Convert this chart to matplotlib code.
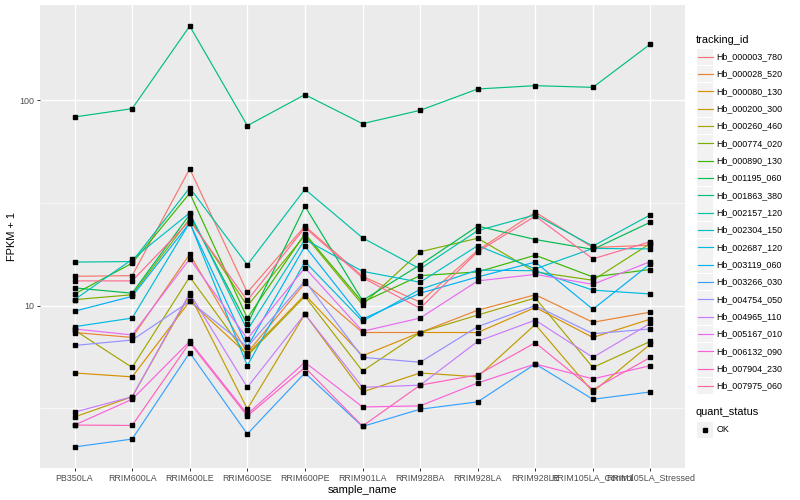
import numpy as np
import matplotlib
matplotlib.use("Agg")
import matplotlib.pyplot as plt
from matplotlib.lines import Line2D
from matplotlib.patches import Rectangle
from matplotlib.ticker import FixedLocator, NullFormatter

plt.rcParams['font.family'] = ['Liberation Sans', 'DejaVu Sans']

samples = ["PB350LA", "RRIM600LA", "RRIM600LE", "RRIM600SE", "RRIM600PE", "RRIM901LA",
           "RRIM928BA", "RRIM928LA", "RRIM928LE", "RRIM105LA_Control", "RRIM105LA_Stressed"]

tracking_ids = ["Hb_000003_780", "Hb_000028_520", "Hb_000080_130", "Hb_000200_300",
                "Hb_000260_460", "Hb_000774_020", "Hb_000890_130", "Hb_001195_060",
                "Hb_001863_380", "Hb_002157_120", "Hb_002304_150", "Hb_002687_120",
                "Hb_003119_060", "Hb_003266_030", "Hb_004754_050", "Hb_004965_110",
                "Hb_005167_010", "Hb_006132_090", "Hb_007904_230", "Hb_007975_060"]

colors = ["#F8766D", "#EA8331", "#D89000", "#C09B00", "#A3A500", "#7CAE00", "#39B600",
          "#00BB4E", "#00BF7D", "#00C1A3", "#00BFC4", "#00BAE0", "#00B0F6", "#35A2FF",
          "#9590FF", "#C77CFF", "#E76BF3", "#FA62DB", "#FF62BC", "#FF6C91"]

# FPKM + 1 values per gene, in sample order
Hb_000003_780 = [13.9, 14.0, 46.4, 11.6, 24.4, 13.9, 10.4, 18.6, 28.5, 19.2, 19.7]
Hb_000028_520 = [7.4, 7.0, 17.8, 5.9, 12.9, 7.4, 7.4, 9.5, 11.3, 8.3, 9.3]
Hb_000080_130 = [4.7, 4.5, 10.5, 5.8, 11.3, 5.7, 7.4, 7.4, 9.8, 7.0, 8.6]
Hb_000200_300 = [2.87, 3.6, 11.3, 3.14, 9.1, 3.8, 4.7, 4.5, 8.1, 3.8, 6.5]
Hb_000260_460 = [7.6, 5.0, 13.8, 5.7, 11.1, 4.8, 7.4, 9.0, 10.9, 5.0, 6.7]
Hb_000774_020 = [10.7, 11.3, 26.5, 9.96, 22.0, 10.1, 18.3, 21.3, 14.6, 13.3, 20.1]
Hb_000890_130 = [11.4, 16.1, 35.3, 8.7, 22.4, 10.4, 14.0, 14.6, 17.6, 13.8, 15.0]
Hb_001195_060 = [12.2, 11.5, 27.8, 8.1, 30.5, 10.6, 15.8, 24.4, 21.0, 18.8, 25.5]
Hb_001863_380 = [83.0, 91.1, 230.1, 75.3, 106.6, 77.0, 89.4, 113.6, 117.9, 115.7, 188.1]
Hb_002157_120 = [16.3, 16.4, 37.5, 15.8, 36.9, 21.4, 15.1, 23.2, 27.7, 19.5, 27.7]
Hb_002304_150 = [10.7, 16.8, 28.3, 7.6, 21.0, 14.7, 13.0, 19.6, 15.1, 19.0, 18.9]
Hb_002687_120 = [7.9, 8.7, 25.4, 5.1, 16.4, 8.4, 12.0, 14.9, 14.8, 11.9, 11.4]
Hb_003119_060 = [9.4, 11.1, 25.3, 6.3, 19.5, 8.6, 11.5, 13.8, 16.3, 9.6, 16.0]
Hb_003266_030 = [2.05, 2.24, 5.9, 2.37, 4.7, 2.58, 3.13, 3.4, 5.2, 3.5, 3.8]
Hb_004754_050 = [6.4, 6.8, 10.5, 6.3, 13.2, 5.6, 5.3, 7.9, 10.0, 7.3, 7.7]
Hb_004965_110 = [3.03, 3.6, 11.5, 4.0, 9.1, 4.0, 4.1, 6.7, 8.5, 5.6, 8.2]
Hb_005167_010 = [7.7, 7.2, 16.9, 6.9, 15.3, 7.5, 8.7, 13.2, 14.2, 12.7, 16.4]
Hb_006132_090 = [2.62, 3.5, 6.7, 2.96, 5.3, 3.21, 3.25, 4.2, 5.2, 4.4, 5.1]
Hb_007904_230 = [2.62, 2.61, 6.6, 2.90, 5.0, 2.59, 4.1, 4.6, 6.6, 3.9, 5.6]
Hb_007975_060 = [13.2, 13.2, 25.9, 10.6, 24.0, 13.7, 9.7, 18.3, 27.3, 16.9, 20.5]

series = [Hb_000003_780, Hb_000028_520, Hb_000080_130, Hb_000200_300, Hb_000260_460,
          Hb_000774_020, Hb_000890_130, Hb_001195_060, Hb_001863_380, Hb_002157_120,
          Hb_002304_150, Hb_002687_120, Hb_003119_060, Hb_003266_030, Hb_004754_050,
          Hb_004965_110, Hb_005167_010, Hb_006132_090, Hb_007904_230, Hb_007975_060]

status_levels = ["OK"]

W, H = 800, 500
fig = plt.figure(figsize=(W / 100, H / 100), dpi=100)
fig.patch.set_facecolor("white")

pl, pr, pt, pb = 40, 685, 5, 468
ax = fig.add_axes([pl / W, 1 - pb / H, (pr - pl) / W, (pb - pt) / H])
ax.set_facecolor("#EBEBEB")
for s in ax.spines.values():
    s.set_visible(False)

x = np.arange(1, len(samples) + 1)
ax.set_yscale("log")

for vals, col in zip(series, colors):
    ax.plot(x, vals, color=col, lw=0.85, zorder=3, solid_capstyle="butt")
for vals in series:
    ax.plot(x, vals, linestyle="none", marker="s", markersize=2.7,
            color="black", zorder=4)

allv = np.concatenate([np.asarray(v, float) for v in series])
lo, hi = np.log10(allv.min()), np.log10(allv.max())
pad = 0.05 * (hi - lo)
ax.set_ylim(10 ** (lo - pad), 10 ** (hi + pad))
ax.set_xlim(0.4, len(samples) + 0.6)

ax.yaxis.set_major_locator(FixedLocator([10, 100]))
ax.yaxis.set_minor_locator(FixedLocator([10 ** 0.5, 10 ** 1.5]))
ax.yaxis.set_minor_formatter(NullFormatter())
ax.set_yticklabels(["10", "100"])
ax.set_xticks(x)
ax.set_xticklabels(samples)

ax.grid(which="major", color="white", lw=0.95, zorder=1)
ax.grid(which="minor", axis="y", color="white", lw=0.45, zorder=1)
ax.set_axisbelow(True)

ax.tick_params(which="major", length=2.3, width=0.7, color="#333333",
               labelsize=6.4, labelcolor="#4D4D4D", pad=1.8)
ax.tick_params(which="minor", length=0)

ax.set_xlabel("sample_name", fontsize=7.9, labelpad=2)
ax.set_ylabel("FPKM + 1", fontsize=7.9, labelpad=1.5)

# legend (drawn in figure pixel coordinates)
def fx(px):
    return px / W

def fy(py):
    return 1 - py / H

fig.text(fx(696), fy(40), "tracking_id", fontsize=7.9, va="center", ha="left")
step = 17.33
y0 = 56.7
kx0, kx1 = 697, 713
for i, (tid, col) in enumerate(zip(tracking_ids, colors)):
    yc = y0 + i * step
    fig.add_artist(Rectangle((fx(kx0), fy(yc + 8.2)), (kx1 - kx0) / W, 16.4 / H,
                             transform=fig.transFigure, facecolor="#F2F2F2",
                             edgecolor="none"))
    fig.add_artist(Line2D([fx(kx0 + 0.5), fx(kx1 - 0.5)], [fy(yc), fy(yc)],
                          transform=fig.transFigure, color=col, lw=0.85))
    fig.text(fx(716.5), fy(yc), tid, fontsize=6.4, va="center", ha="left")

fig.text(fx(696), fy(412), "quant_status", fontsize=7.9, va="center", ha="left")
for i, st in enumerate(status_levels):
    yc = 430 + i * step
    fig.add_artist(Rectangle((fx(kx0), fy(yc + 8.2)), (kx1 - kx0) / W, 16.4 / H,
                             transform=fig.transFigure, facecolor="#F2F2F2",
                             edgecolor="none"))
    fig.add_artist(Line2D([fx((kx0 + kx1) / 2)], [fy(yc)], transform=fig.transFigure,
                          marker="s", markersize=2.7, color="black", linestyle="none"))
    fig.text(fx(716.5), fy(yc), st, fontsize=6.4, va="center", ha="left")

fig.savefig("out.png", dpi=100)
